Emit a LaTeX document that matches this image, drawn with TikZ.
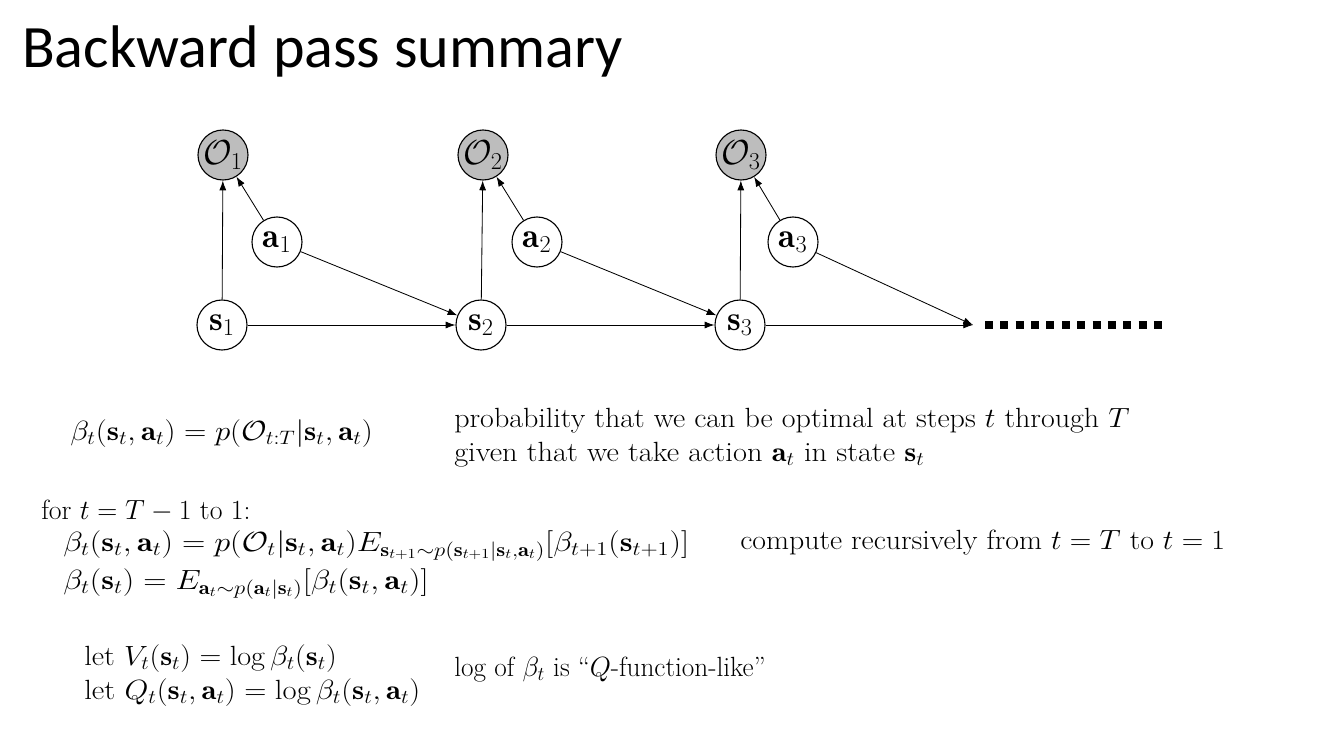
\RequirePackage{fix-cm}
\documentclass[tikz,border=0pt]{standalone}
\usepackage{fontspec}
\usepackage{graphicx}
\newfontfamily\titlefont{Carlito}
\usetikzlibrary{arrows.meta}
\tikzset{
  var/.style={circle,draw,line width=0.8pt,minimum size=36pt,inner sep=0pt,font=\fontsize{25}{30}\selectfont,fill=white},
  obs/.style={var,fill=black!26},
  edge/.style={line width=0.6pt,-{Latex[length=7pt,width=5pt]}},
  txt/.style={anchor=base west,inner sep=0pt,font=\fontsize{20}{24}\selectfont},
}
\newcommand{\hs}[2]{\scalebox{#1}[1]{#2}}
\begin{document}
\begin{tikzpicture}[x=0.72pt,y=-0.72pt]
\useasboundingbox (0,0) rectangle (1334,750);
\node[anchor=base west,inner sep=0pt,font=\titlefont\fontsize{43.3}{52}\selectfont] (title) at (22,68) {Backward pass summary};
% graph
\node[obs] (O1) at (223,155) {$\mathcal{O}_1$};
\node[var] (a1) at (277,242) {$\mathbf{a}_1$};
\node[var] (s1) at (222,325) {$\mathbf{s}_1$};
\node[obs] (O2) at (483,155) {$\mathcal{O}_2$};
\node[var] (a2) at (537,242) {$\mathbf{a}_2$};
\node[var] (s2) at (481,325) {$\mathbf{s}_2$};
\node[obs] (O3) at (741,155) {$\mathcal{O}_3$};
\node[var] (a3) at (793,242) {$\mathbf{a}_3$};
\node[var] (s3) at (740,325) {$\mathbf{s}_3$};
\coordinate (end) at (973,325);
\coordinate (d1) at (985,325);
\coordinate (d2) at (1162,325);
\draw[edge] (s1) -- (O1);
\draw[edge] (a1) -- (O1);
\draw[edge] (s1) -- (s2);
\draw[edge] (a1) -- (s2);
\draw[edge] (s2) -- (O2);
\draw[edge] (a2) -- (O2);
\draw[edge] (s2) -- (s3);
\draw[edge] (a2) -- (s3);
\draw[edge] (s3) -- (O3);
\draw[edge] (a3) -- (O3);
\draw[edge] (s3) -- (end);
\draw[edge] (a3) -- (end);
\draw[line width=5.76pt,dash pattern=on 5.76pt off 5.3pt] (d1) -- (d2);
% text
\node[txt] (t1) at (70,440) {\hs{1.115}{$\beta_t(\mathbf{s}_t,\mathbf{a}_t) = p(\mathcal{O}_{t:T}|\mathbf{s}_t,\mathbf{a}_t)$}};
\node[txt] (t2) at (454,427) {\hs{1.08}{probability that we can be optimal at steps $t$ through $T$}};
\node[txt] (t3) at (454,461) {\hs{1.095}{given that we take action $\mathbf{a}_t$ in state $\mathbf{s}_t$}};
\node[txt] (t4) at (41,519) {for $t=T-1$ to 1:};
\node[txt] (t5) at (63,551) {\hs{1.164}{$\beta_t(\mathbf{s}_t,\mathbf{a}_t) = p(\mathcal{O}_t|\mathbf{s}_t,\mathbf{a}_t)E_{\mathbf{s}_{t+1}\sim p(\mathbf{s}_{t+1}|\mathbf{s}_t,\mathbf{a}_t)}[\beta_{t+1}(\mathbf{s}_{t+1})]$}};
\node[txt] (t6) at (740,549) {\hs{1.073}{compute recursively from $t=T$ to $t=1$}};
\node[txt] (t7) at (63,589) {\hs{1.163}{$\beta_t(\mathbf{s}_t) = E_{\mathbf{a}_t\sim p(\mathbf{a}_t|\mathbf{s}_t)}[\beta_t(\mathbf{s}_t,\mathbf{a}_t)]$}};
\node[txt] (t8) at (84,665) {\hs{1.09}{let $V_t(\mathbf{s}_t) = \log\beta_t(\mathbf{s}_t)$}};
\node[txt] (t9) at (84,699) {\hs{1.106}{let $Q_t(\mathbf{s}_t,\mathbf{a}_t) = \log\beta_t(\mathbf{s}_t,\mathbf{a}_t)$}};
\node[txt] (t10) at (454,676) {\hs{0.98}{log of $\beta_t$ is ``$Q$-function-like''}};
\end{tikzpicture}
\end{document}
